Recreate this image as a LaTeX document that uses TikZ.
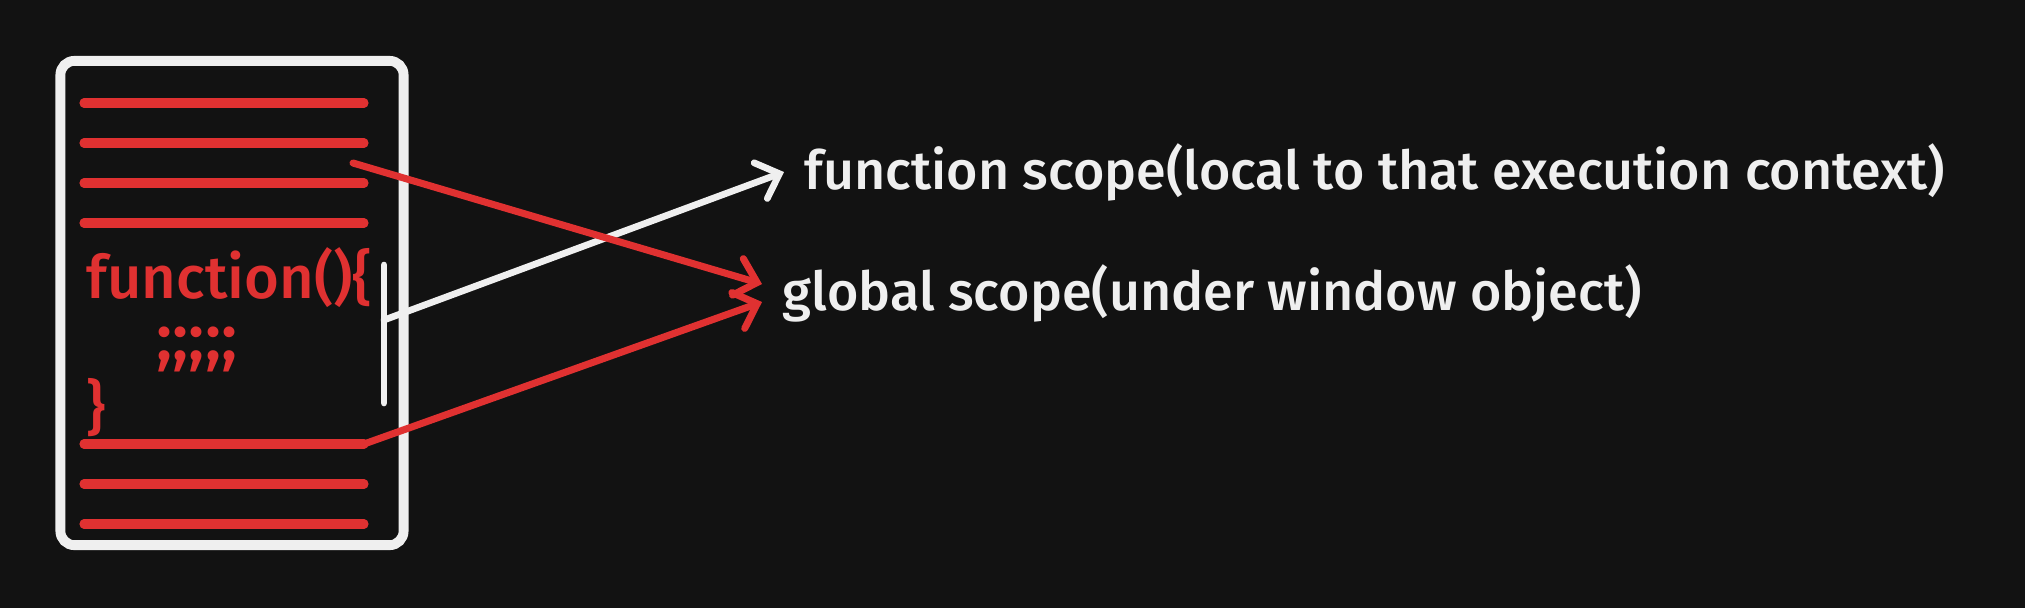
\documentclass[tikz,border=0pt]{standalone}
\usepackage{fontspec}
\setmainfont{Fira Sans}[UprightFont={* Medium}]
\usetikzlibrary{arrows.meta,positioning}
\definecolor{night}{HTML}{121212}
\definecolor{chalk}{HTML}{EFEFEF}
\definecolor{crimson}{HTML}{E03131}

\begin{document}
\begin{tikzpicture}[x=0.01cm,y=-0.01cm,
    codeline/.style={crimson,line width=2.6pt,line cap=round},
    redarrow/.style={crimson,line width=2pt,line cap=round,-{Straight Barb[length=2mm,width=3.8mm,line cap=round]}},
    whitearrow/.style={chalk,line width=1.9pt,line cap=round,-{Straight Barb[length=2mm,width=3.8mm,line cap=round]}},
    scopelabel/.style={text=chalk,font=\fontsize{15.3}{18}\selectfont,anchor=west,inner xsep=0.2cm,inner ysep=0pt},
    codetext/.style={text=crimson,font=\fontsize{17}{20}\selectfont,inner sep=0pt}]
  \fill[night] (0,0) rectangle (2025,608);
  % the page of code
  \node[draw=chalk,line width=2.8pt,rounded corners=0.14cm,minimum width=3.43cm,minimum height=4.84cm] (page) at (232,303) {};
  \foreach \y [count=\i] in {103,143,183,223,444,484,524}
    \draw[codeline] (84,\y) coordinate (l\i-w) -- (364,\y) coordinate (l\i-e);
  \node[codetext,anchor=west] (fn) at (86,278) {function()\{};
  \node[codetext,font=\fontsize{19}{20}\selectfont] (semis) at (197,349) {;;;;;};
  \node[codetext,anchor=west] (close) at (86,408) {\}};
  % the scope bar
  \draw[chalk,line width=1.9pt,line cap=round] (384,265) coordinate (bar-n) -- (384,403) coordinate (bar-s);
  \coordinate (bar-m) at (384,320);
  \coordinate (var-a) at (353,163);
  % labels
  \node[scopelabel] (fscope) at (784,172) {function scope(local to that execution context)};
  \node[scopelabel] (gscope) at (762,293) {global scope(under window object)};
  % connectors
  \draw[whitearrow] (bar-m) -- (fscope.west);
  \draw[redarrow] (var-a) -- ([yshift=0.09cm]gscope.west);
  \draw[redarrow] (l5-e) -- ([yshift=-0.09cm]gscope.west);
\end{tikzpicture}
\end{document}
